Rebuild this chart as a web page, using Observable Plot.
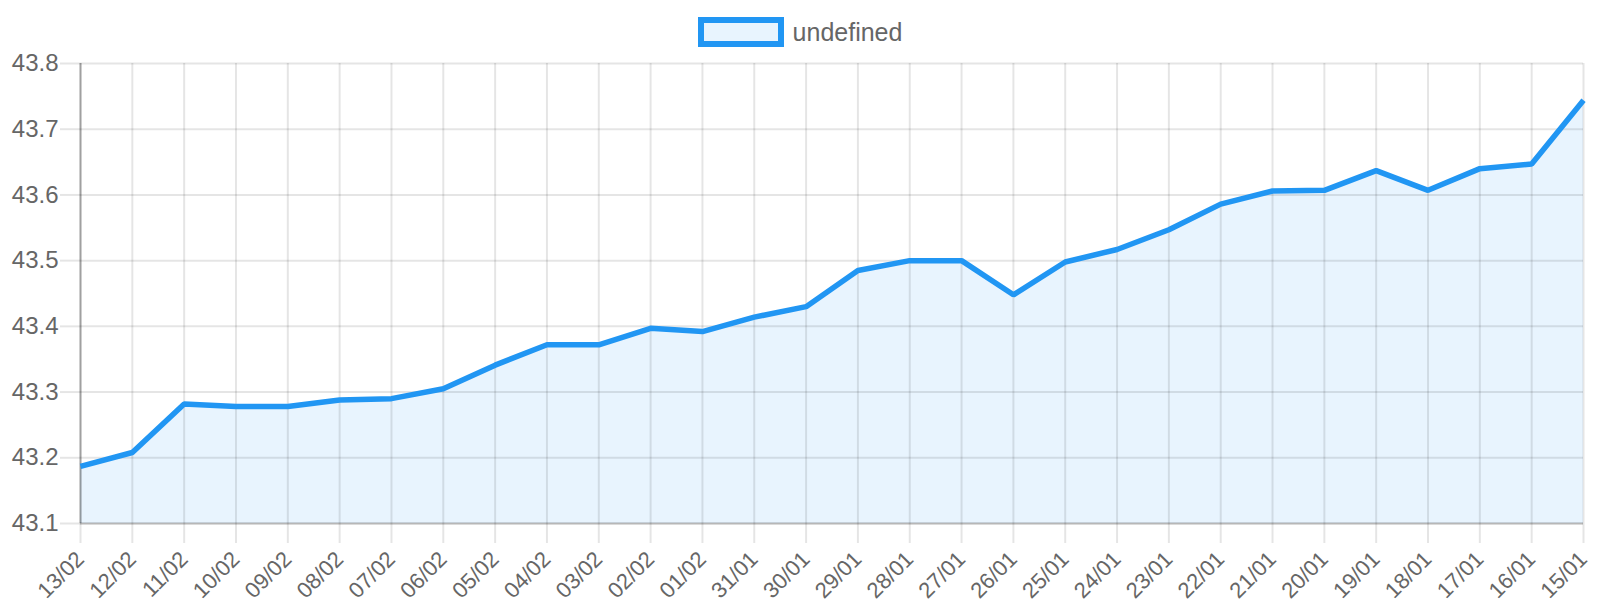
<!DOCTYPE html>
<html>
<head>
<meta charset="utf-8">
<script src="https://cdn.jsdelivr.net/npm/d3@7"></script>
<script src="https://cdn.jsdelivr.net/npm/@observablehq/plot@0.6"></script>
<style>
  html, body { margin: 0; padding: 0; background: #fff; }
  body { width: 1600px; height: 600px; overflow: hidden; font-family: "Liberation Sans", Arial, sans-serif; }
  #legend { height: 56px; box-sizing: border-box; padding-top: 17px; display: flex; justify-content: center; align-items: flex-start; }
  #legend .item { display: flex; align-items: center; height: 30px; }
  #legend .swatch { width: 74px; height: 18px; border: 6px solid #2196F3; background: rgba(33,150,243,0.1); margin-right: 9px; }
  #legend .label { font-size: 25px; color: #666; line-height: 30px; }
  #chart svg { overflow: visible; display: block; }
</style>
</head>
<body>
<div id="legend"><div class="item"><div class="swatch"></div><span class="label">undefined</span></div></div>
<div id="chart"></div>
<script>
const seriesName = "undefined";
const labels = ["13/02","12/02","11/02","10/02","09/02","08/02","07/02","06/02","05/02","04/02",
                "03/02","02/02","01/02","31/01","30/01","29/01","28/01","27/01","26/01","25/01",
                "24/01","23/01","22/01","21/01","20/01","19/01","18/01","17/01","16/01","15/01"];
const values = [43.187,43.208,43.282,43.278,43.278,43.288,43.290,43.305,43.341,43.372,
                43.372,43.397,43.392,43.414,43.430,43.485,43.500,43.500,43.448,43.498,
                43.517,43.547,43.586,43.606,43.607,43.637,43.607,43.640,43.647,43.744];
const yTicks = [43.1,43.2,43.3,43.4,43.5,43.6,43.7,43.8];
const yDomain = [43.1, 43.8];

const data = labels.map((d, i) => ({i, label: d, value: values[i]}));
const xIdx = labels.map((d, i) => i);

const chart = Plot.plot({
  width: 1600,
  height: 544,
  marginTop: 7,
  marginBottom: 77,
  marginLeft: 80,
  marginRight: 17,
  style: {fontFamily: '"Liberation Sans", Arial, sans-serif', fontSize: "24px", color: "#666", background: "#fff", overflow: "visible"},
  x: {type: "linear", domain: [0, labels.length - 1], label: null},
  y: {domain: yDomain, label: null},
  marks: [
    Plot.areaY(data, {x: "i", y1: yDomain[0], y2: "value", fill: "#2196F3", fillOpacity: 0.1}),
    Plot.gridX(xIdx, {stroke: "#000", strokeOpacity: 0.1, strokeWidth: 2}),
    Plot.gridY(yTicks, {stroke: "#000", strokeOpacity: 0.1, strokeWidth: 2}),
    Plot.axisY(yTicks, {tickSize: 20, tickPadding: 2, stroke: "#000", strokeOpacity: 0.1, strokeWidth: 2, fill: "#666", fontSize: 24, tickFormat: d => d.toFixed(1), label: null}),
    Plot.axisX(xIdx, {tickSize: 20, tickPadding: 12, tickRotate: -45, stroke: "#000", strokeOpacity: 0.1, strokeWidth: 2, fill: "#666", fontSize: 22, tickFormat: i => labels[i], label: null}),
    Plot.ruleX([0], {stroke: "#000", strokeOpacity: 0.3, strokeWidth: 2}),
    Plot.ruleY([yDomain[0]], {stroke: "#000", strokeOpacity: 0.2, strokeWidth: 2}),
    Plot.lineY(data, {x: "i", y: "value", stroke: "#2196F3", strokeWidth: 5.5, strokeLinejoin: "miter", strokeLinecap: "butt"})
  ]
});
document.getElementById("chart").appendChild(chart);
</script>
</body>
</html>
